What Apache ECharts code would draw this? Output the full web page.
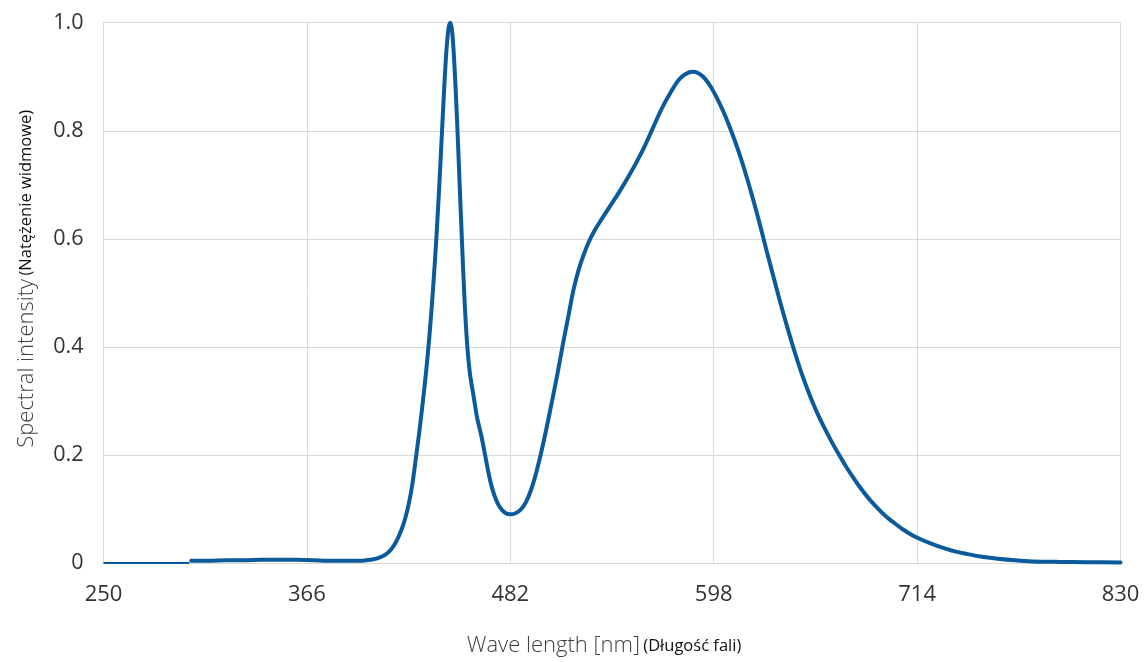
<!DOCTYPE html>
<html>
<head>
<meta charset="utf-8">
<script src="https://cdn.jsdelivr.net/npm/echarts@6/dist/echarts.min.js"></script>
<style>html,body{margin:0;padding:0;background:#fff}#c{width:1147px;height:662px}</style>
</head>
<body>
<div id="c"></div>
<script>
// Axis range / ticks (nm)
const xMin = 250, xMax = 830, xStep = 116;
const yTicks = [0, 0.2, 0.4, 0.6, 0.8, 1.0];

// Baseline before measured data (thin line)
const baseWave = [250, 299];
const baseVal = [0, 0];

// Measured spectrum
const wave = [300,310,320,330,340,350,360,370,380,390,396,400,404,408,411,414,417,420,422,424,426,428,430,432,434,436,438,440,442,444,445.5,446.8,447.8,448.8,450,451.5,453,454.5,456,457.5,459,461,463,465.5,467.6,469.5,471.5,474,476.5,479,482,485,488,491,494,497,500,503,506,509,512,515,518,521,524,527,530,534,539,544,549,554,559,564,569,574,578,582,586,589,592,595,598,601,604,607,610,613,616,619,622,625,628,631,634,637,640,643,646,649,652,655,658,661,665,669,673,677,681,686,691,696,701,706,711,716,722,728,735,742,750,760,770,780,795,810,830];
const intensity = [0.004,0.004,0.005,0.005,0.006,0.006,0.006,0.005,0.004,0.004,0.004,0.005,0.007,0.011,0.016,0.025,0.04,0.062,0.082,0.108,0.143,0.19,0.24,0.295,0.355,0.425,0.51,0.61,0.73,0.86,0.945,0.99,1.0,0.985,0.93,0.83,0.71,0.59,0.48,0.40,0.35,0.31,0.27,0.235,0.2,0.168,0.14,0.116,0.101,0.093,0.09,0.092,0.099,0.113,0.137,0.17,0.21,0.255,0.303,0.352,0.405,0.455,0.505,0.543,0.572,0.596,0.615,0.636,0.661,0.686,0.713,0.742,0.774,0.81,0.845,0.874,0.894,0.905,0.909,0.907,0.9,0.888,0.872,0.853,0.832,0.808,0.782,0.754,0.723,0.69,0.655,0.618,0.58,0.543,0.506,0.47,0.436,0.403,0.372,0.343,0.317,0.293,0.271,0.251,0.226,0.203,0.181,0.161,0.142,0.121,0.103,0.087,0.074,0.062,0.052,0.044,0.036,0.029,0.022,0.017,0.012,0.008,0.005,0.003,0.002,0.0015,0.001];

// Axis titles
const yTitleMain = 'Spectral intensity';
const yTitleSub = '(Natężenie widmowe)';
const xTitleMain = 'Wave length [nm]';
const xTitleSub = '(Długość fali)';

// x plotted relative to xMin so ticks fall at xMin + k*xStep
const toPts = (w, v) => w.map((x, i) => [x - xMin, v[i]]);

const chart = echarts.init(document.getElementById('c'));
const font = '"Open Sans", "Noto Sans", sans-serif';
const lineColor = '#0b5a9c';
const rich = {
  a: {fontFamily: font, fontSize: 22, fontWeight: 300, color: '#404040'},
  b: {fontFamily: font, fontSize: 16.5, fontWeight: 500, color: '#111'}
};
chart.setOption({
  animation: false,
  grid: {left: 103.5, right: 26.5, top: 22.7, bottom: 96.5, containLabel: false},
  xAxis: {
    type: 'value', min: 0, max: xMax - xMin, interval: xStep,
    name: '{a|' + xTitleMain + '} {b|' + xTitleSub + '}',
    nameLocation: 'middle', nameGap: 72,
    nameTextStyle: {padding: [0, 16, 0, 0], rich: rich},
    axisLine: {show: true, lineStyle: {color: '#d9d9d9', width: 1}},
    axisTick: {show: false},
    axisLabel: {formatter: v => String(v + xMin), fontFamily: font, fontSize: 22, color: '#333', margin: 21},
    splitLine: {show: true, lineStyle: {color: '#d9d9d9', width: 1}}
  },
  yAxis: {
    type: 'value', min: yTicks[0], max: yTicks[yTicks.length - 1], interval: 0.2,
    name: '{a|' + yTitleMain + '} {b|' + yTitleSub + '}',
    nameLocation: 'middle', nameGap: 66, nameRotate: 90,
    nameTextStyle: {padding: [0, 0, 0, 28], rich: rich},
    axisLine: {show: true, lineStyle: {color: '#d9d9d9', width: 1}},
    axisTick: {show: false},
    axisLabel: {formatter: v => v === 0 ? '0' : v.toFixed(1), fontFamily: font, fontSize: 21.5, color: '#333', margin: 20},
    splitLine: {show: true, lineStyle: {color: '#d9d9d9', width: 1}}
  },
  series: [
    {type: 'line', data: toPts(baseWave, baseVal), showSymbol: false, smooth: false,
     lineStyle: {color: lineColor, width: 2}},
    {type: 'line', data: toPts(wave, intensity), showSymbol: false, smooth: 0.3,
     lineStyle: {color: lineColor, width: 4, join: 'round', cap: 'round'}}
  ]
});
</script>
</body>
</html>
